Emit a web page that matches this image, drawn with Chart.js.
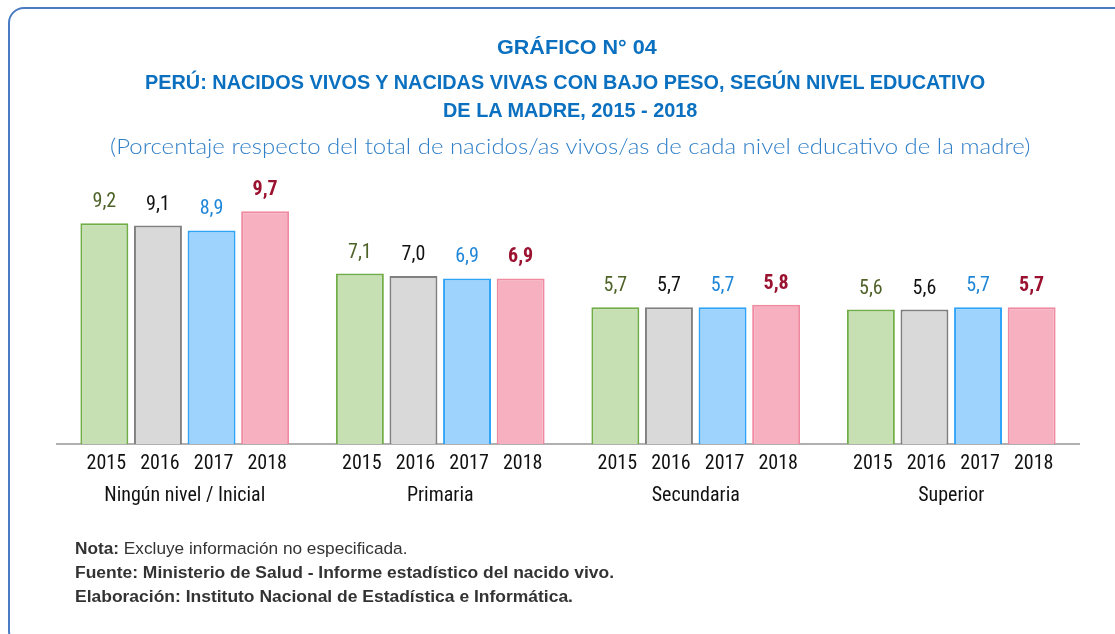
<!DOCTYPE html>
<html>
<head>
<meta charset="utf-8">
<script src="https://cdn.jsdelivr.net/npm/chart.js@4.4.1/dist/chart.umd.min.js"></script>
<style>
  html, body { margin: 0; padding: 0; background: #fff; }
  body { width: 1115px; height: 634px; position: relative; overflow: hidden; }
  .frame { position: absolute; left: 8px; top: 7px; width: 1130px; height: 640px; border: 2px solid #4a7cc4; border-radius: 16px; box-sizing: border-box; }
  #wrap { position: absolute; left: 0; top: 0; width: 1115px; height: 634px; }
  .txt { position: absolute; display: inline-block; white-space: nowrap; line-height: 1; }
  .t { color: #0a70bf; font-family: "Liberation Sans", Arial, sans-serif; font-weight: bold; font-size: 20.5px; transform-origin: 0 50%; }
  .sub { color: #2f7fc8; font-family: "Lato", "Open Sans", sans-serif; font-weight: 300; font-size: 21px; transform-origin: 0 50%; }
  .note { color: #333; font-family: "Liberation Sans", Arial, sans-serif; font-size: 17.2px; transform-origin: 0 50%; }
</style>
</head>
<body>
<div class="frame"></div>
<div id="wrap"><canvas id="c" width="1115" height="634"></canvas></div>
<div class="txt t" data-cx="577" data-cy="47" data-w="160">GRÁFICO N° 04</div>
<div class="txt t" data-cx="565" data-cy="82" data-w="840">PERÚ: NACIDOS VIVOS Y NACIDAS VIVAS CON BAJO PESO, SEGÚN NIVEL EDUCATIVO</div>
<div class="txt t" data-cx="570" data-cy="110" data-w="254">DE LA MADRE, 2015 - 2018</div>
<div class="txt sub" data-cx="570" data-cy="145" data-w="920">(Porcentaje respecto del total de nacidos/as vivos/as de cada nivel educativo de la madre)</div>
<div class="txt note" data-lx="75" data-cy="548" data-w="333"><b>Nota:</b> Excluye información no especificada.</div>
<div class="txt note" data-lx="75" data-cy="572" data-w="539"><b>Fuente: Ministerio de Salud - Informe estadístico del nacido vivo.</b></div>
<div class="txt note" data-lx="75" data-cy="596" data-w="498"><b>Elaboración: Instituto Nacional de Estadística e Informática.</b></div>
<script>
const categories = ["Ningún nivel / Inicial", "Primaria", "Secundaria", "Superior"];
const years = ["2015", "2016", "2017", "2018"];
const v2015 = [9.2, 7.1, 5.7, 5.6];
const v2016 = [9.1, 7.0, 5.7, 5.6];
const v2017 = [8.9, 6.9, 5.7, 5.7];
const v2018 = [9.7, 6.9, 5.8, 5.7];

const fills = ["#c6e0b4", "#d9d9d9", "#9dd3fd", "#f6b0c0"];
const borders = ["#70ad47", "#808080", "#2ea3f7", "#f08aa0"];
const labelColors = ["#4f6228", "#111111", "#1f86d8", "#9b1130"];
const labelBold = [false, false, false, true];
const NARROW = '"Liberation Sans Narrow", "Arial Narrow", "Roboto Condensed", sans-serif';

const series = [v2015, v2016, v2017, v2018];

// fit text blocks to the measured widths of the reference
document.querySelectorAll('.txt').forEach(el => {
  const w = el.offsetWidth, h = el.offsetHeight;
  const k = parseFloat(el.dataset.w) / w;
  const cy = parseFloat(el.dataset.cy);
  let left;
  if (el.dataset.cx) left = parseFloat(el.dataset.cx) - w / 2 * k;
  else left = parseFloat(el.dataset.lx);
  el.style.left = left + 'px';
  el.style.top = (cy - h / 2) + 'px';
  el.style.transform = 'scaleX(' + k + ')';
});

const labelsPlugin = {
  id: 'barLabels',
  afterDatasetsDraw(chart) {
    const ctx = chart.ctx;
    ctx.save();
    chart.data.datasets.forEach((ds, di) => {
      const meta = chart.getDatasetMeta(di);
      meta.data.forEach((el, i) => {
        ctx.font = (labelBold[di] ? 'bold ' : '') + '20px ' + NARROW;
        ctx.fillStyle = labelColors[di];
        ctx.textAlign = 'center';
        ctx.textBaseline = 'alphabetic';
        ctx.fillText(ds.data[i].toFixed(1).replace('.', ','), el.x, el.y - 16);
        ctx.font = '20px ' + NARROW;
        ctx.fillStyle = '#111111';
        ctx.textBaseline = 'middle';
        ctx.fillText(years[di], el.x + 2, 464);
      });
    });
    ctx.restore();
  }
};

new Chart(document.getElementById('c'), {
  type: 'bar',
  data: {
    labels: categories,
    datasets: series.map((d, i) => ({
      label: years[i],
      data: d,
      backgroundColor: fills[i],
      borderColor: borders[i],
      borderWidth: 2,
      categoryPercentage: 0.839,
      barPercentage: 0.895
    }))
  },
  options: {
    responsive: false,
    animation: false,
    layout: { padding: { left: 57, right: 36, top: 204, bottom: 0 } },
    plugins: { legend: { display: false }, tooltip: { enabled: false } },
    scales: {
      y: { display: false, min: 0, max: 10 },
      x: {
        grid: { display: false, drawTicks: false },
        border: { display: true, color: '#b0b0b0', width: 2 },
        ticks: { color: '#111111', font: { family: NARROW, size: 20 }, padding: 40 },
        afterFit(scale) { scale.height = 190; }
      }
    }
  },
  plugins: [labelsPlugin]
});
</script>
</body>
</html>
